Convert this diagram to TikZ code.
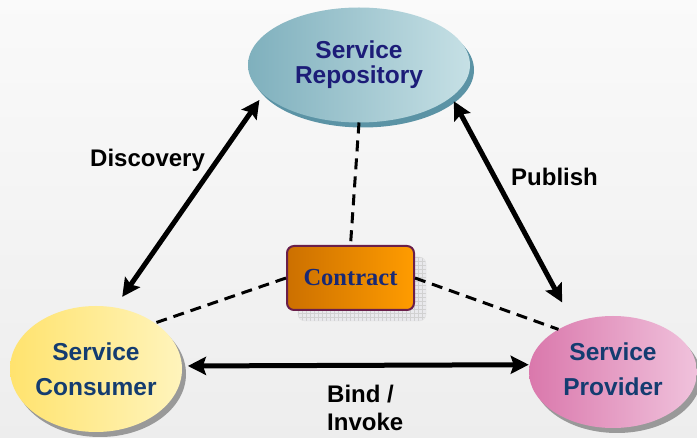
\documentclass[tikz,border=0pt]{standalone}
\usepackage{fontspec}
\setmainfont{Liberation Sans}
\newfontfamily\labelsans{Liberation Sans}
\newfontfamily\labelserif{Liberation Serif}
\usetikzlibrary{positioning, shapes.geometric, shadows, arrows.meta}

\definecolor{repoLeft}{HTML}{7FB0BD}
\definecolor{repoRight}{HTML}{C6E0E5}
\definecolor{repoShade}{HTML}{5B93A5}
\definecolor{repoText}{HTML}{1C1C78}
\definecolor{consLeft}{HTML}{FFE36E}
\definecolor{consRight}{HTML}{FFF4BC}
\definecolor{provLeft}{HTML}{DA78AC}
\definecolor{provRight}{HTML}{F0C2DC}
\definecolor{roleText}{HTML}{143C70}
\definecolor{dealLeft}{HTML}{CC7000}
\definecolor{dealRight}{HTML}{FF9C00}
\definecolor{dealEdge}{HTML}{6A1F4A}
\definecolor{dealShade}{HTML}{E9E9EC}

\begin{document}
\begin{tikzpicture}[x=1pt, y=-1pt,
    % roles sit in shaded ellipses with a drop shadow, like the slide
    role/.style={ellipse, inner sep=0pt, outer sep=0pt, align=center,
                 font=\labelsans\bfseries\fontsize{24.5}{35}\selectfont,
                 text=roleText},
    greyshade/.style={drop shadow={shadow xshift=4pt, shadow yshift=-5pt,
                 fill=black!40, opacity=1}},
    deal/.style={rectangle, rounded corners=7pt, draw=dealEdge, line width=2pt,
                 left color=dealLeft, right color=dealRight,
                 minimum width=127pt, minimum height=64pt, inner sep=0pt,
                 font=\labelserif\bfseries\fontsize{24.5}{26}\selectfont,
                 text=repoText!60!roleText},
    dealshade/.style={rectangle, rounded corners=7pt, draw=black!12,
                 fill=dealShade, minimum width=128pt, minimum height=64pt,
                 path picture={\draw[black!18, line width=0.4pt, step=4pt]
                   (path picture bounding box.south west) grid
                   (path picture bounding box.north east);}},
    flow/.style={{Stealth[length=18pt, width=18pt, inset=3pt]}-{Stealth[length=18pt, width=18pt, inset=3pt]},
                 line width=5pt, black},
    tie/.style={dashed, dash pattern=on 11pt off 7pt, line width=3pt, black},
    flowlab/.style={inner sep=0pt, align=left,
                 font=\labelsans\bfseries\fontsize{24}{28}\selectfont}]

  % ---- page: faint grey wash, also fixes the bounding box
  \fill[top color=white!98!black, bottom color=white!93!black]
    (0,0) rectangle (697,438);
  \useasboundingbox (0,0) rectangle (697,438);

  % ---- the three roles
  \node[role, minimum width=222pt, minimum height=115pt,
        left color=repoLeft, right color=repoRight, text=repoText,
        font=\labelsans\bfseries\fontsize{24.5}{25}\selectfont,
        drop shadow={shadow xshift=4pt, shadow yshift=-5pt, fill=repoShade, opacity=1}]
    (repo) at (359,65) {Service\\Repository};
  \node[role, greyshade, minimum width=172pt, minimum height=126pt,
        left color=consLeft, right color=consRight]
    (cons) at (96,369) {Service\\Consumer};
  \node[role, greyshade, minimum width=168pt, minimum height=112pt,
        left color=provLeft, right color=provRight]
    (prov) at (613,372) {Service\\Provider\vphantom{g}};

  % ---- the contract, with its gridded shadow card behind it
  \node[dealshade] (dealcard) at (362,289) {};
  \node[deal] (deal) at (350.5,278) {Contract};

  % ---- interactions
  \draw[flow, shorten <=13pt, shorten >=7pt] (cons.73) -- (repo.197);
  \draw[flow, shorten <=5pt, shorten >=23pt] (repo.341) -- (prov.129);
  \draw[flow, shorten <=6pt, shorten >=1pt] (cons.2.5) -- (prov.175);

  % ---- everyone is bound by the contract
  \draw[tie] (repo.south) -- (deal.north);
  \draw[tie] (deal.west) -- (cons.38);
  \draw[tie] (deal.east) -- (prov.142);

  % ---- labels on the arrows
  \node[flowlab, anchor=base west] (disc) at (90,167) {Discovery};
  \node[flowlab, anchor=base west] (publ) at (511,186) {Publish};
  \node[flowlab, anchor=north west] (bind) at (327,384.5) {Bind /\\Invoke};
\end{tikzpicture}
\end{document}
